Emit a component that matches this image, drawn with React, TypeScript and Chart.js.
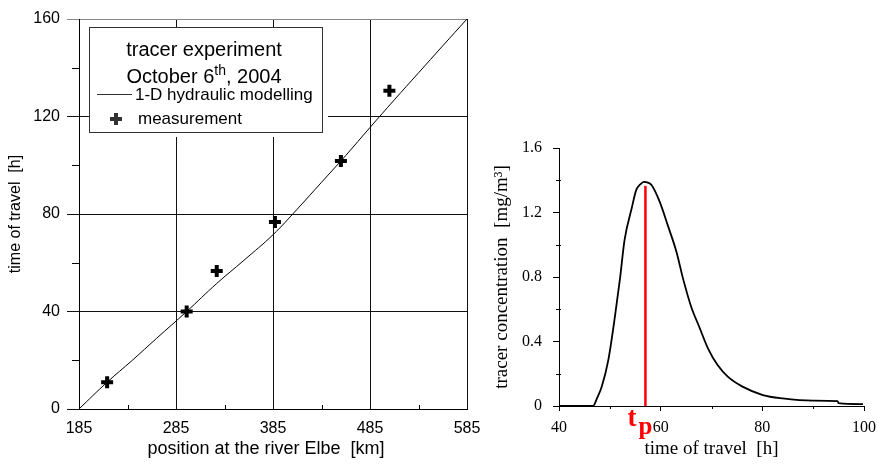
import React, { useEffect, useRef } from "react";
import { Chart, registerables } from "chart.js";
Chart.register(...registerables);

// ---- Left chart data ----
const kmTicks = [185, 285, 385, 485, 585];
const kmMinor = [235, 335, 435, 535];
const hourTicks = [0, 40, 80, 120, 160];
const hourMinor = [20, 60, 100, 140];
const modelKm = [185, 214, 240, 265, 296, 327, 355, 385, 410, 435, 460, 485, 510, 535, 560, 585];
const modelHours = [0, 11, 20, 29, 40, 51.5, 61, 71.5, 82, 93, 104, 115.5, 126.8, 137.9, 149, 160];
const measKm = [214, 296, 327, 387, 455, 505];
const measHours = [11, 40, 56.6, 76.7, 101.7, 130.6];

// ---- Right chart data ----
const travelTicks = [40, 60, 80, 100];
const travelMinor = [50, 70, 90];
const concTicks = [0, 0.4, 0.8, 1.2, 1.6];
const concMinor = [0.2, 0.6, 1.0, 1.4];
const travelTime = [40, 46.7, 47.5, 48.4, 49.7, 51.0, 52.0, 52.9, 54.3, 55.2, 56.0, 56.7, 57.5, 58.2, 59.8, 61.4, 63.1, 64.4, 66.0, 67.6, 69.3, 71.2, 73.2, 76.1, 80.1, 84.0, 89.9, 94.8, 95.0, 99.8];
const concentration = [0, 0, 0.05, 0.12, 0.285, 0.554, 0.79, 1.03, 1.226, 1.34, 1.375, 1.39, 1.385, 1.37, 1.267, 1.12, 0.957, 0.79, 0.616, 0.49, 0.358, 0.254, 0.182, 0.12, 0.068, 0.047, 0.033, 0.03, 0.018, 0.012];
const peakTime = 57;
const peakLineTop = 1.365;

const SANS = "'Liberation Sans', Arial, sans-serif";
const SERIF = "'Liberation Serif', 'Times New Roman', serif";

export default function App() {
  const leftRef = useRef<HTMLCanvasElement>(null);
  const rightRef = useRef<HTMLCanvasElement>(null);

  useEffect(() => {
    document.body.style.margin = "0";
    const leftPlugin = {
      id: "leftDecor",
      afterDraw(chart: any) {
        const ctx = chart.ctx;
        const xs = chart.scales.x;
        const ys = chart.scales.y;
        ctx.save();
        ctx.strokeStyle = "#000";
        ctx.lineWidth = 1;
        // minor ticks
        for (const v of hourMinor) {
          const y = Math.round(ys.getPixelForValue(v)) + 0.5;
          ctx.beginPath();
          ctx.moveTo(chart.chartArea.left - 7, y);
          ctx.lineTo(chart.chartArea.left, y);
          ctx.stroke();
        }
        for (const v of kmMinor) {
          const x = Math.round(xs.getPixelForValue(v)) + 0.5;
          ctx.beginPath();
          ctx.moveTo(x, chart.chartArea.bottom);
          ctx.lineTo(x, chart.chartArea.bottom - 4);
          ctx.stroke();
        }
        // x axis title
        ctx.fillStyle = "#000";
        ctx.textBaseline = "alphabetic";
        ctx.textAlign = "center";
        ctx.font = `18px ${SANS}`;
        ctx.fillText("position at the river Elbe  [km]", 266, 454);
        // legend box
        ctx.fillStyle = "#fff";
        ctx.fillRect(89, 27, 239, 110);
        ctx.strokeStyle = "#333";
        ctx.strokeRect(89.5, 27.5, 233, 105);
        ctx.fillStyle = "#000";
        ctx.font = `20px ${SANS}`;
        ctx.textAlign = "center";
        ctx.fillText("tracer experiment", 204, 56);
        // October 6th, 2004
        const a = "October 6";
        const sup = "th";
        const b = ", 2004";
        ctx.font = `20px ${SANS}`;
        const wa = ctx.measureText(a).width;
        const wb = ctx.measureText(b).width;
        ctx.font = `14px ${SANS}`;
        const ws = ctx.measureText(sup).width;
        const start = 204 - (wa + ws + wb) / 2;
        ctx.textAlign = "left";
        ctx.font = `20px ${SANS}`;
        ctx.fillText(a, start, 83);
        ctx.fillText(b, start + wa + ws, 83);
        ctx.font = `14px ${SANS}`;
        ctx.fillText(sup, start + wa, 75);
        // line sample
        ctx.beginPath();
        ctx.moveTo(97, 94.5);
        ctx.lineTo(132, 94.5);
        ctx.lineWidth = 1;
        ctx.stroke();
        ctx.font = `17px ${SANS}`;
        ctx.fillText("1-D hydraulic modelling", 135, 100);
        // cross
        ctx.lineWidth = 4;
        ctx.beginPath();
        ctx.moveTo(110, 119);
        ctx.lineTo(122, 119);
        ctx.moveTo(116, 113);
        ctx.lineTo(116, 125);
        ctx.stroke();
        ctx.fillText("measurement", 138, 124);
        ctx.restore();
      },
    };

    const left = new Chart(leftRef.current!, {
      type: "line",
      data: {
        datasets: [
          {
            label: "1-D hydraulic modelling",
            data: modelKm.map((x, i) => ({ x, y: modelHours[i] })),
            borderColor: "#000",
            borderWidth: 1,
            pointRadius: 0,
            tension: 0.4,
            fill: false,
          },
          {
            label: "measurement",
            data: measKm.map((x, i) => ({ x, y: measHours[i] })),
            showLine: false,
            pointStyle: "cross",
            pointRadius: 6,
            pointBorderWidth: 4,
            borderColor: "#000",
            backgroundColor: "#000",
          },
        ],
      },
      options: {
        animation: false,
        responsive: false,
        devicePixelRatio: 1,
        layout: { padding: { left: 0, top: 19, right: 13, bottom: 0 } },
        plugins: { legend: { display: false }, tooltip: { enabled: false } },
        scales: {
          x: {
            type: "linear",
            min: 185,
            max: 585,
            afterBuildTicks: (s: any) => {
              s.ticks = kmTicks.map((v) => ({ value: v }));
            },
            afterFit: (s: any) => {
              s.height = 55;
              s.paddingLeft = 0;
              s.paddingRight = 0;
            },
            ticks: { font: { family: SANS, size: 16 }, color: "#000", padding: 10, maxRotation: 0, autoSkip: false },
            grid: { color: "#111", drawTicks: false, lineWidth: 1 },
            border: { display: true, color: "#000" },
            title: { display: false },
          },
          y: {
            type: "linear",
            min: 0,
            max: 160,
            afterBuildTicks: (s: any) => {
              s.ticks = hourTicks.map((v) => ({ value: v }));
            },
            afterFit: (s: any) => {
              s.width = 79;
              s.paddingTop = 0;
              s.paddingBottom = 0;
            },
            ticks: { font: { family: SANS, size: 16 }, color: "#000", padding: 7 },
            grid: {
              color: (c: any) => (c.tick && c.tick.value === 160 ? "#888" : "#111"),
              tickColor: (c: any) => (c.tick && c.tick.value === 160 ? "#888" : "#111"),
              drawTicks: true,
              tickLength: 12,
              lineWidth: 1,
            },
            border: { display: true, color: "#000" },
            title: {
              display: true,
              text: "time of travel  [h]",
              font: { family: SANS, size: 16 },
              color: "#000",
              padding: { top: 6, bottom: 0 },
            },
          },
        },
      },
      plugins: [leftPlugin],
    } as any);

    const rightPlugin = {
      id: "rightDecor",
      afterDraw(chart: any) {
        const ctx = chart.ctx;
        const xs = chart.scales.x;
        const ys = chart.scales.y;
        const ca = chart.chartArea;
        ctx.save();
        ctx.strokeStyle = "#000";
        ctx.lineWidth = 1;
        for (const v of concMinor) {
          const y = Math.round(ys.getPixelForValue(v)) + 0.5;
          ctx.beginPath();
          ctx.moveTo(ca.left - 3, y);
          ctx.lineTo(ca.left + 2, y);
          ctx.stroke();
        }
        for (const v of travelMinor) {
          const x = Math.round(xs.getPixelForValue(v)) + 0.5;
          ctx.beginPath();
          ctx.moveTo(x, ca.bottom);
          ctx.lineTo(x, ca.bottom + 3);
          ctx.stroke();
        }
        const px = xs.getPixelForValue(peakTime);
        ctx.fillStyle = "#ff0000";
        ctx.textAlign = "left";
        ctx.textBaseline = "alphabetic";
        ctx.font = `bold 27px ${SERIF}`;
        ctx.fillText("t", px - 18, 426);
        ctx.font = `bold 25px ${SERIF}`;
        ctx.fillText("p", px - 7, 434);
        ctx.restore();
      },
    };

    const right = new Chart(rightRef.current!, {
      type: "line",
      data: {
        datasets: [
          {
            label: "concentration",
            data: travelTime.map((x, i) => ({ x, y: concentration[i] })),
            borderColor: "#000",
            borderWidth: 1.8,
            pointRadius: 0,
            cubicInterpolationMode: "monotone",
            fill: false,
          },
          {
            label: "tp",
            data: [
              { x: peakTime, y: 0 },
              { x: peakTime, y: peakLineTop },
            ],
            borderColor: "#ff0000",
            borderWidth: 2.5,
            pointRadius: 0,
            fill: false,
          },
        ],
      },
      options: {
        animation: false,
        responsive: false,
        devicePixelRatio: 1,
        layout: { padding: { left: 0, top: 148, right: 14, bottom: 0 } },
        plugins: { legend: { display: false }, tooltip: { enabled: false } },
        scales: {
          x: {
            type: "linear",
            min: 40,
            max: 100,
            afterBuildTicks: (s: any) => {
              s.ticks = travelTicks.map((v) => ({ value: v }));
            },
            afterFit: (s: any) => {
              s.height = 58;
              s.paddingLeft = 0;
              s.paddingRight = 0;
            },
            ticks: { font: { family: SERIF, size: 16 }, color: "#000", padding: 7, maxRotation: 0, autoSkip: false },
            grid: { drawOnChartArea: false, drawTicks: true, tickLength: 5, color: "#000", tickColor: "#000" },
            border: { display: true, color: "#000" },
            title: {
              display: true,
              text: "time of travel  [h]",
              font: { family: SERIF, size: 19 },
              color: "#000",
              padding: { top: 0, bottom: 4 },
            },
          },
          y: {
            type: "linear",
            min: 0,
            max: 1.6,
            afterBuildTicks: (s: any) => {
              s.ticks = concTicks.map((v) => ({ value: v }));
            },
            afterFit: (s: any) => {
              s.width = 79;
              s.paddingTop = 0;
              s.paddingBottom = 0;
            },
            ticks: { font: { family: SERIF, size: 16 }, color: "#000", padding: 11 },
            grid: { drawOnChartArea: false, drawTicks: true, tickLength: 6, color: "#000", tickColor: "#000" },
            border: { display: true, color: "#000" },
            title: {
              display: true,
              text: "tracer concentration  [mg/m³]",
              font: { family: SERIF, size: 19 },
              color: "#000",
              padding: { top: 11, bottom: 0 },
            },
          },
        },
      },
      plugins: [rightPlugin],
    } as any);

    return () => {
      left.destroy();
      right.destroy();
    };
  }, []);

  return (
    <div style={{ position: "relative", width: 878, height: 464, background: "#fff", overflow: "hidden" }}>
      <canvas ref={leftRef} width={480} height={464} style={{ position: "absolute", left: 0, top: 0, width: 480, height: 464 }} />
      <canvas ref={rightRef} width={398} height={464} style={{ position: "absolute", left: 480, top: 0, width: 398, height: 464 }} />
    </div>
  );
}
